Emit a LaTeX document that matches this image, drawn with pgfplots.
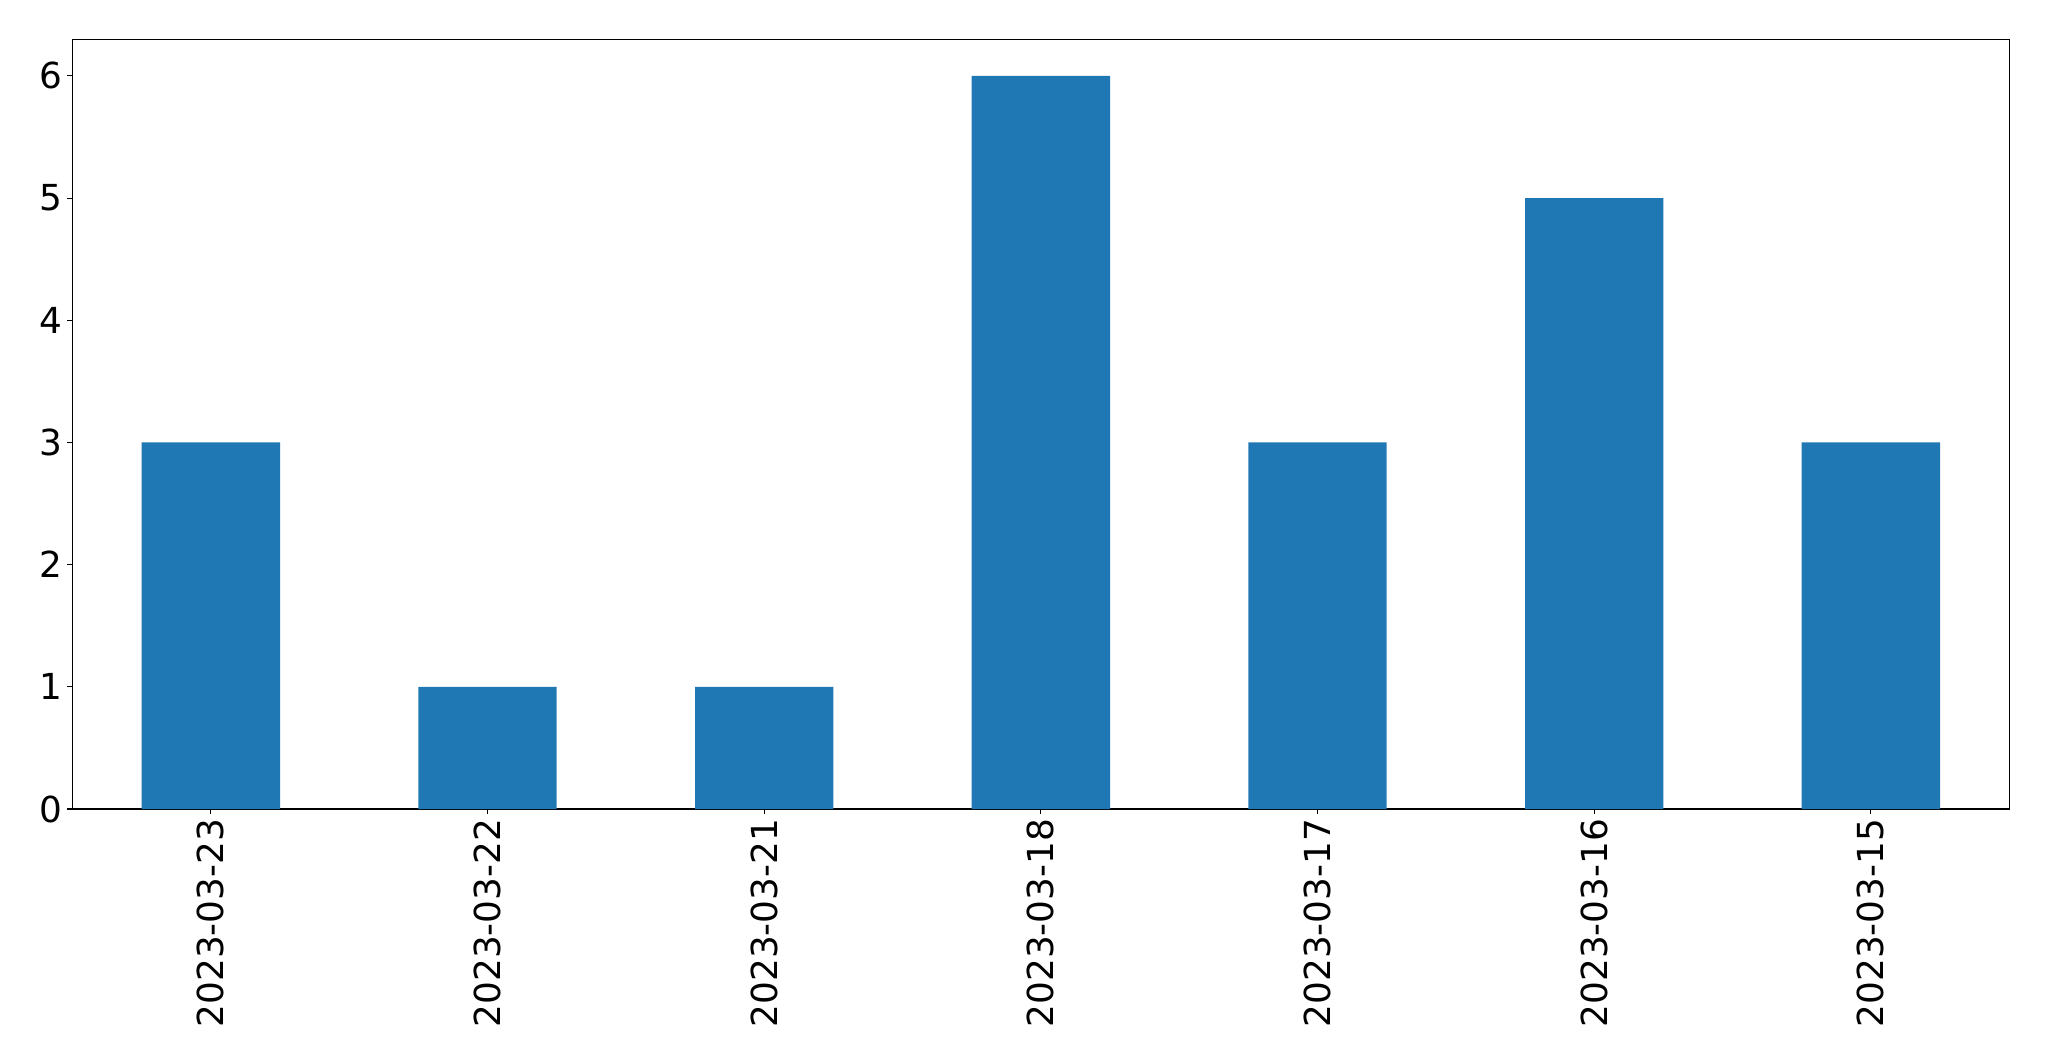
\documentclass[border=0pt]{standalone}
\usepackage{pgfplots}
\pgfplotsset{compat=1.18}
\usepackage{fontspec}
\setmainfont{DejaVu Sans}
\definecolor{mplblue}{HTML}{1F77B4}
\begin{document}
\begin{tikzpicture}
\useasboundingbox (0pt,0pt) rectangle (1475.28pt,763.92pt);
\begin{axis}[
  at={(52.2pt,181.44pt)}, anchor=south west,
  scale only axis,
  width=1394.5pt, height=554.2pt,
  xmin=-0.5, xmax=6.5, ymin=0, ymax=6.3,
  xtick={0,1,2,3,4,5,6},
  xticklabels={2023-03-23,2023-03-22,2023-03-21,2023-03-18,2023-03-17,2023-03-16,2023-03-15},
  ytick={0,1,2,3,4,5,6},
  tick pos=left, tick align=outside,
  major tick length=3.6pt,
  axis line style={line width=0.8pt},
  every tick/.style={black, line width=0.8pt},
  tick label style={font=\fontsize{25.8}{30}\selectfont},
  /pgf/number format/assume math mode=true,
  xticklabel style={rotate=90, anchor=east},
  yticklabel style={anchor=east},
]
\addplot[ybar, bar width=0.5, fill=mplblue, draw=none] coordinates {
(0,3) (1,1) (2,1) (3,6) (4,3) (5,5) (6,3)
};
\end{axis}
\end{tikzpicture}
\end{document}
